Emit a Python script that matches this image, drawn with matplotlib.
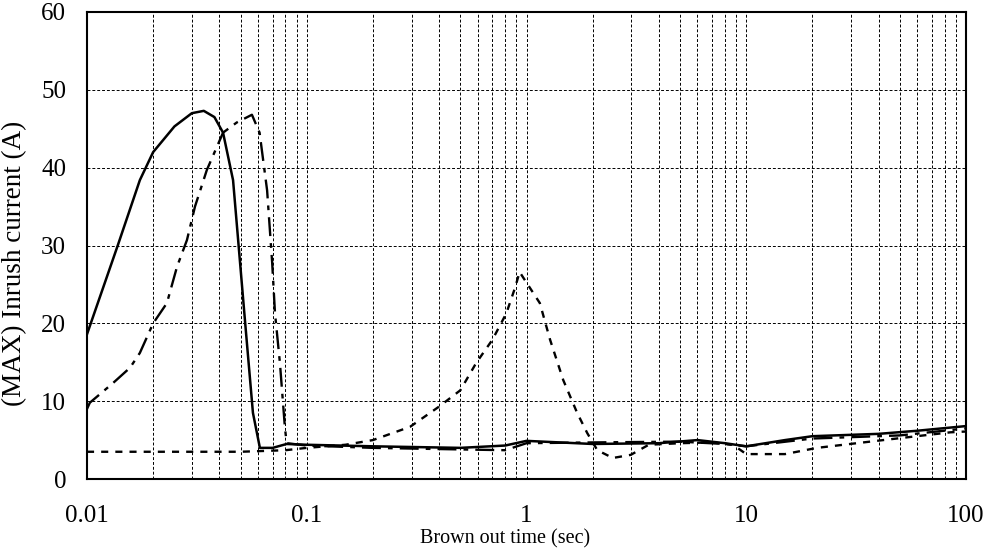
import matplotlib
matplotlib.use('Agg')
import matplotlib.pyplot as plt
from matplotlib.ticker import FixedLocator, NullFormatter

# Data
t_solid = [0.01, 0.0138, 0.0174, 0.02, 0.025, 0.03, 0.034, 0.038, 0.0416, 0.0462, 0.0524,
           0.0569, 0.0612, 0.07, 0.081, 0.1, 0.2, 0.5, 0.8, 1.0, 2.0, 4.0, 6.0, 8.0, 10,
           15, 20, 40, 60, 100]
i_solid = [18.6, 30, 38.4, 42, 45.3, 47.0, 47.3, 46.5, 44.5, 38.4, 20.2,
           8.5, 4.0, 4.0, 4.5, 4.4, 4.2, 4.0, 4.3, 4.9, 4.5, 4.6, 5.0, 4.6, 4.2,
           5.0, 5.5, 5.8, 6.2, 6.8]

t_dashdot = [0.01, 0.0103, 0.0131, 0.0157, 0.0174, 0.02, 0.0231, 0.0257, 0.0285, 0.031,
             0.0351, 0.0416, 0.048, 0.0563, 0.061, 0.066, 0.0696, 0.0717, 0.0755, 0.0795,
             0.081, 0.1, 0.2, 0.5, 0.8, 1.0, 2.0, 5.0, 8.0, 10, 20, 50, 100]
i_dashdot = [9.0, 9.8, 12.3, 14.3, 16.2, 20, 22.6, 27.3, 30.7, 35,
             39.7, 44.5, 45.8, 46.8, 44.5, 37.1, 27.8, 21.3, 14.9, 6.7,
             4.6, 4.3, 4.0, 3.8, 3.7, 4.6, 4.7, 4.8, 4.5, 4.2, 5.2, 5.6, 6.5]

t_dotted = [0.01, 0.05, 0.08, 0.1, 0.15, 0.2, 0.295, 0.4, 0.5, 0.59, 0.7, 0.81, 0.89, 0.93,
            1.15, 1.28, 1.47, 1.7, 1.89, 2.1, 2.47, 2.98, 3.6, 5, 7, 8.7, 10, 15, 21, 42, 85, 100]
i_dotted = [3.5, 3.5, 3.7, 4.0, 4.4, 5.0, 6.7, 9.3, 11.4, 14.9, 17.9, 21.3, 24.7, 26.6,
            22.6, 17.9, 12.7, 8.5, 5.9, 3.7, 2.7, 3.1, 4.4, 4.6, 4.7, 4.4, 3.2, 3.2, 4.0, 5.0, 6.0, 6.1]

x_ticks = [0.01, 0.1, 1, 10, 100]
x_ticklabels = ['0.01', '0.1', '1', '10', '100']
y_ticks = [0, 10, 20, 30, 40, 50, 60]

plt.rcParams['font.family'] = ['Liberation Serif', 'DejaVu Serif']

W, H = 986, 555
fig = plt.figure(figsize=(W / 100, H / 100), dpi=100)
ax = fig.add_axes([87 / W, 1 - 479 / H, (966 - 87) / W, (479 - 12) / H])

ax.plot(t_solid, i_solid, color='black', lw=1.8, ls='-')
ax.plot(t_dashdot, i_dashdot, color='black', lw=1.7, ls=(0, (8, 3, 2, 3)))
ax.plot(t_dotted, i_dotted, color='black', lw=1.7, ls=(0, (3, 3)))

ax.set_xscale('log')
ax.set_xlim(0.01, 100)
ax.set_ylim(0, 60)
ax.set_xticks(x_ticks)
ax.set_xticklabels(x_ticklabels)
minor = [m * 10.0 ** e for e in range(-2, 2) for m in range(2, 10)]
ax.xaxis.set_minor_locator(FixedLocator(minor))
ax.xaxis.set_minor_formatter(NullFormatter())
ax.set_yticks(y_ticks)

ax.grid(True, which='both', color='black', lw=0.7, ls=(0, (3, 2)))
ax.tick_params(which='both', length=0, labelsize=18)
ax.tick_params(axis='x', pad=19)
ax.tick_params(axis='y', pad=15)
for s in ax.spines.values():
    s.set_linewidth(1.5)

fig.text(505 / W, 1 - 539 / H, 'Brown out time (sec)', fontsize=14.5, ha='center', va='center')
fig.text(15 / W, 1 - 263 / H, '(MAX) Inrush current (A)', fontsize=19.5,
         rotation=90, ha='center', va='center')

fig.savefig('out.png', dpi=100)
